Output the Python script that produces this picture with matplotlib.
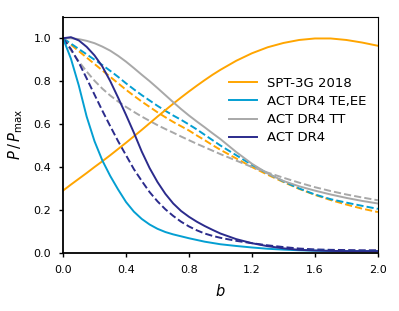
import numpy as np
import matplotlib
matplotlib.use('Agg')
import matplotlib.pyplot as plt

b = [0.0, 0.05, 0.1, 0.15, 0.2, 0.25, 0.3, 0.35, 0.4, 0.45, 0.5, 0.55, 0.6, 0.65, 0.7,
     0.75, 0.8, 0.85, 0.9, 0.95, 1.0, 1.1, 1.2, 1.3, 1.4, 1.5, 1.6, 1.7, 1.8, 1.9, 2.0]

spt_solid = [0.29, 0.318, 0.345, 0.372, 0.40, 0.427, 0.455, 0.484, 0.513, 0.543, 0.573,
             0.604, 0.635, 0.665, 0.695, 0.724, 0.752, 0.779, 0.805, 0.83, 0.853,
             0.895, 0.93, 0.958, 0.978, 0.992, 0.999, 0.999, 0.992, 0.98, 0.965]
spt_dash = [1.0, 0.97, 0.94, 0.91, 0.88, 0.85, 0.82, 0.79, 0.76, 0.732, 0.705, 0.68,
            0.655, 0.632, 0.61, 0.59, 0.57, 0.547, 0.525, 0.502, 0.48, 0.44, 0.40,
            0.364, 0.33, 0.298, 0.27, 0.246, 0.225, 0.206, 0.19]

te_solid = [1.0, 0.905, 0.78, 0.635, 0.52, 0.43, 0.358, 0.295, 0.237, 0.192, 0.158,
            0.132, 0.112, 0.097, 0.086, 0.077, 0.068, 0.06, 0.052, 0.046, 0.04, 0.032,
            0.025, 0.019, 0.015, 0.012, 0.01, 0.009, 0.008, 0.008, 0.008]
te_dash = [1.0, 0.975, 0.95, 0.925, 0.90, 0.875, 0.848, 0.82, 0.79, 0.762, 0.735, 0.71,
           0.685, 0.662, 0.64, 0.62, 0.598, 0.575, 0.55, 0.525, 0.50, 0.455, 0.41,
           0.37, 0.333, 0.30, 0.272, 0.25, 0.234, 0.219, 0.205]

tt_solid = [1.0, 1.0, 0.996, 0.988, 0.977, 0.961, 0.942, 0.918, 0.891, 0.861, 0.83,
            0.80, 0.768, 0.735, 0.702, 0.67, 0.64, 0.612, 0.585, 0.557, 0.53, 0.47,
            0.415, 0.37, 0.335, 0.31, 0.29, 0.272, 0.256, 0.242, 0.23]
tt_dash = [1.0, 0.944, 0.892, 0.845, 0.802, 0.765, 0.733, 0.705, 0.68, 0.657, 0.635,
           0.615, 0.595, 0.577, 0.56, 0.542, 0.525, 0.508, 0.492, 0.476, 0.46, 0.43,
           0.40, 0.374, 0.35, 0.327, 0.306, 0.288, 0.272, 0.258, 0.245]

dr4_solid = [1.0, 1.005, 0.99, 0.96, 0.92, 0.868, 0.80, 0.723, 0.643, 0.56, 0.472,
             0.395, 0.33, 0.275, 0.23, 0.195, 0.168, 0.145, 0.125, 0.107, 0.09, 0.064,
             0.045, 0.031, 0.021, 0.014, 0.011, 0.009, 0.008, 0.008, 0.008]
dr4_dash = [1.0, 0.95, 0.887, 0.813, 0.737, 0.662, 0.59, 0.52, 0.455, 0.39, 0.335,
            0.283, 0.24, 0.203, 0.172, 0.145, 0.123, 0.105, 0.09, 0.079, 0.07, 0.056,
            0.045, 0.035, 0.027, 0.02, 0.016, 0.014, 0.013, 0.012, 0.012]

labels = ['SPT-3G 2018', 'ACT DR4 TE,EE', 'ACT DR4 TT', 'ACT DR4']
colors = ['#ffa500', '#049fd2', '#a8a8a8', '#2b2b8c']
solids = [spt_solid, te_solid, tt_solid, dr4_solid]
dashes = [spt_dash, te_dash, tt_dash, dr4_dash]

plt.rcParams['font.size'] = 8

fig = plt.figure(figsize=(3.99, 3.11), dpi=100)
ax = fig.add_axes([0.158, 0.187, 0.789, 0.759])

for d, c in zip(dashes, colors):
    ax.plot(b, d, color=c, lw=1.4, ls='--')
for s, c, lab in zip(solids, colors, labels):
    ax.plot(b, s, color=c, lw=1.4, label=lab)

ax.set_xlim(0, 2.0)
ax.set_ylim(0, 1.1)
ax.set_xticks([0.0, 0.4, 0.8, 1.2, 1.6, 2.0])
ax.set_yticks([0.0, 0.2, 0.4, 0.6, 0.8, 1.0])
ax.set_xlabel('$b$', fontsize=10.5, labelpad=6)
ax.set_ylabel(r'$P\,/\,P_{\rm max}$', fontsize=10.5, labelpad=6)

for side in ['left', 'bottom']:
    ax.spines[side].set_linewidth(1.3)
for side in ['top', 'right']:
    ax.spines[side].set_linewidth(0.8)
ax.tick_params(width=1.0, length=3.2, pad=5.5)

ax.legend(frameon=False, loc='upper left', bbox_to_anchor=(0.49, 0.797),
          handlelength=2.1, labelspacing=0.4, fontsize=9.5)

fig.savefig('out.png', dpi=100)
